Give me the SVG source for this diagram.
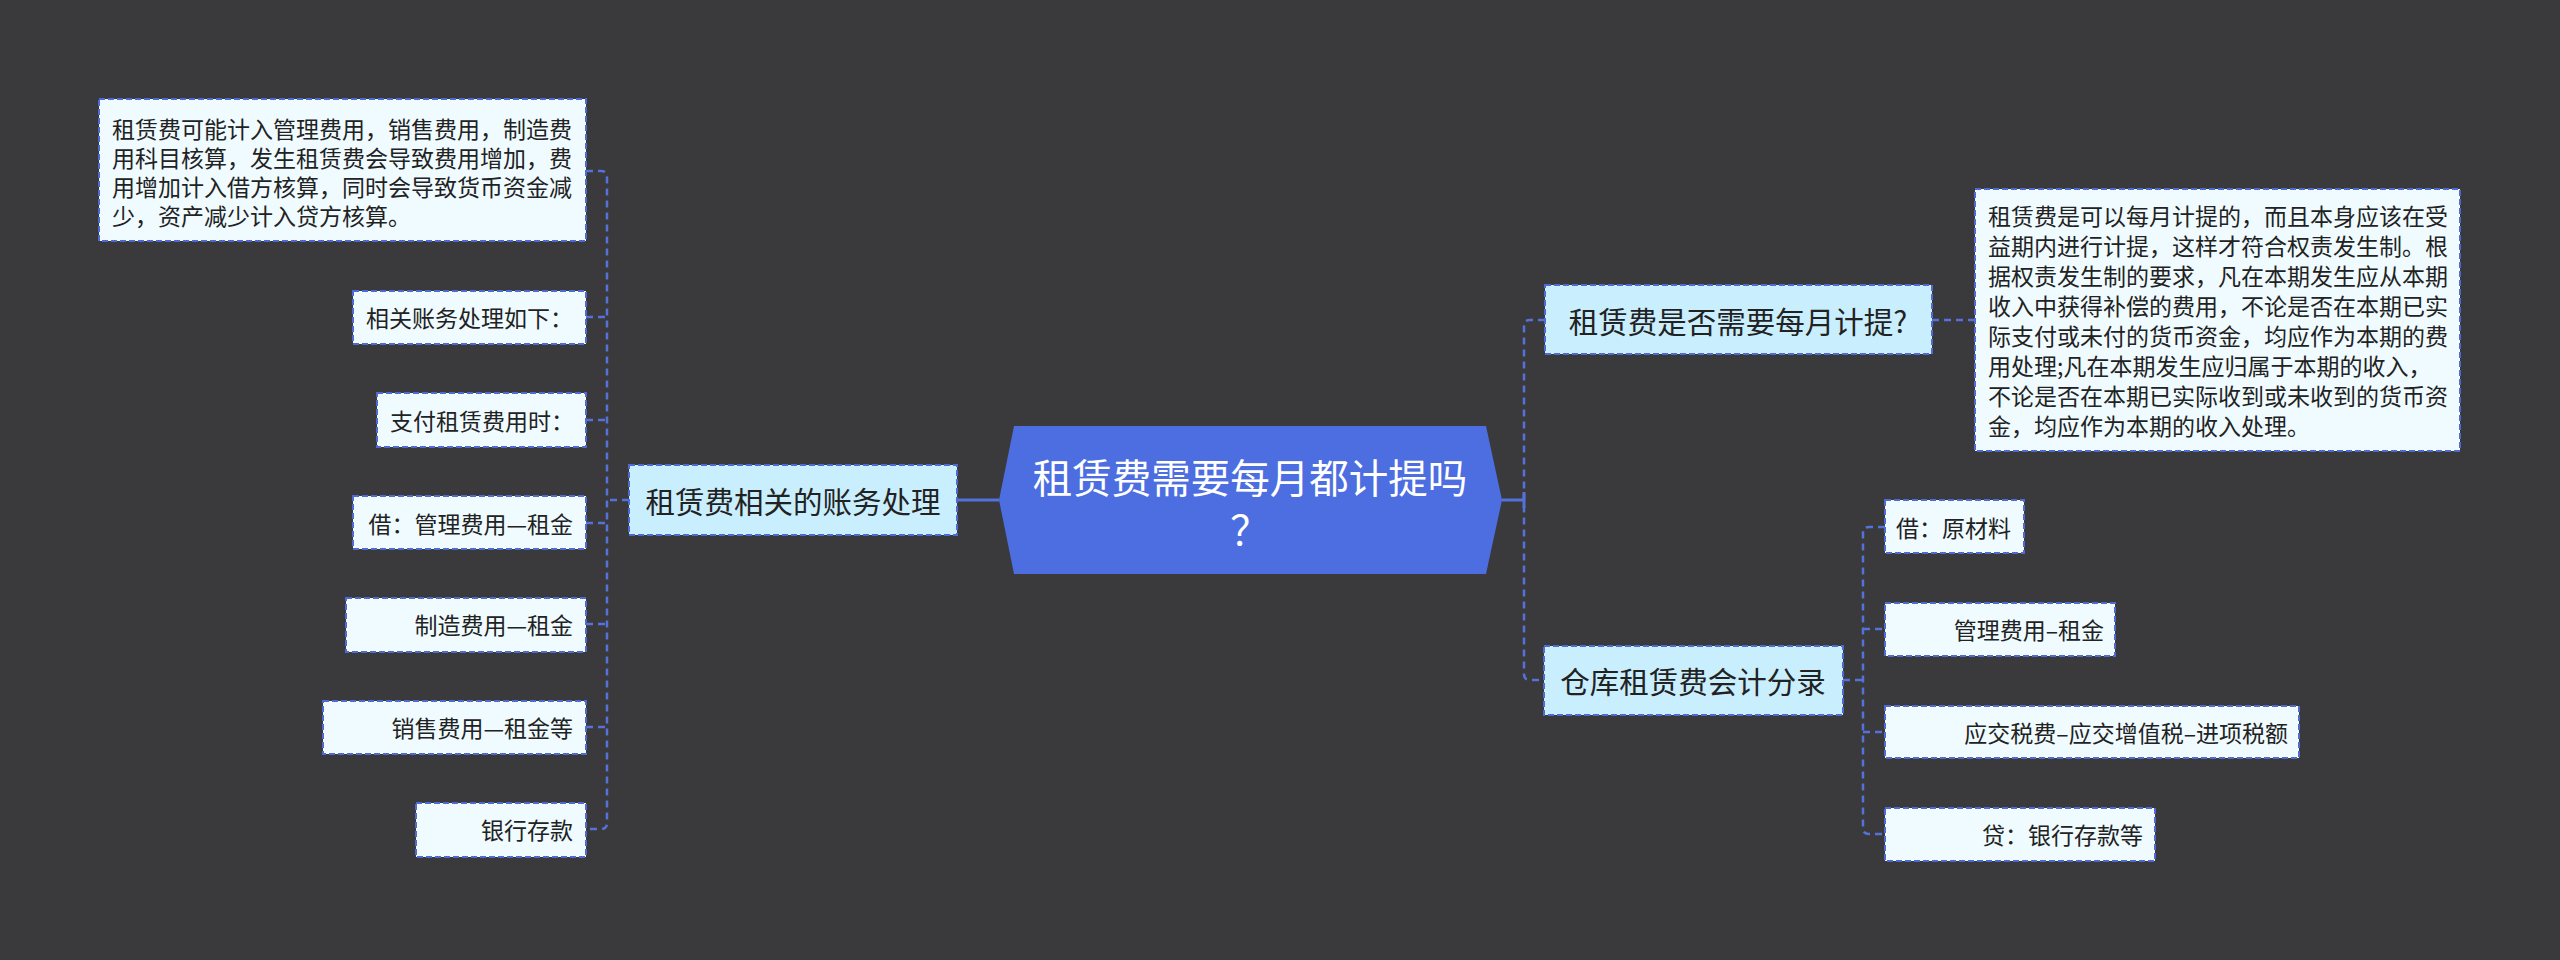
<svg xmlns="http://www.w3.org/2000/svg" width="2560" height="960" viewBox="0 0 2560 960">
<style>
text{font-family:"Noto Sans CJK SC","Noto Sans",sans-serif;fill:#222;}
.leaf{fill:#effbff;stroke:#4f6ad2;stroke-width:2;stroke-dasharray:6 3;}
.sub{fill:#c9eefd;stroke:#4f6ad2;stroke-width:2;stroke-dasharray:6 3;}
.lt{font-size:23px;dominant-baseline:central;}
.st{font-size:29.5px;dominant-baseline:central;text-anchor:middle;}
.c{fill:none;stroke:#5571da;stroke-width:2.5;stroke-dasharray:7 5;}
.s{fill:none;stroke:#5571da;stroke-width:3;}
</style>
<rect width="2560" height="960" fill="#3a393b"/>
<g id="connectors">
<path class="s" d="M957 500 H999"/>
<path class="s" d="M1502 500 H1524 M1524 492 V508"/>
<path class="c" d="M629 500 H607"/>
<path class="c" d="M586 171 H601 Q607 171 607 177 V823 Q607 829 601 829 H586"/>
<path class="c" d="M586 317 H607 M586 420 H607 M586 523 H607 M586 624 H607 M586 727 H607"/>
<path class="c" d="M1545 320 H1530 Q1524 320 1524 326 V674 Q1524 680 1530 680 H1544"/>
<path class="c" d="M1932 320 H1975"/>
<path class="c" d="M1843 680 H1863"/>
<path class="c" d="M1885 527 H1869 Q1863 527 1863 533 V828 Q1863 834 1869 834 H1885"/>
<path class="c" d="M1863 629 H1885 M1863 732 H1885"/>
</g>
<g id="main">
<polygon points="999,500 1014,426 1486,426 1502,500 1486,574 1014,574" fill="#4c6ee0"/>
<text x="1250" y="475" style="font-size:39.5px;fill:#fff;dominant-baseline:central;text-anchor:middle">租赁费需要每月都计提吗</text>
<text x="1250" y="527" style="font-size:39.5px;fill:#fff;dominant-baseline:central;text-anchor:middle">？</text>
</g>
<g id="sub-left">
<rect class="sub" x="629" y="465" width="328" height="70"/>
<text class="st" x="793" y="500">租赁费相关的账务处理</text>
</g>
<g id="leaf-l1">
<rect class="leaf" x="99" y="99" width="487" height="142"/>
<text class="lt" x="112" y="128">租赁费可能计入管理费用，销售费用，制造费</text>
<text class="lt" x="112" y="157">用科目核算，发生租赁费会导致费用增加，费</text>
<text class="lt" x="112" y="186">用增加计入借方核算，同时会导致货币资金减</text>
<text class="lt" x="112" y="215">少，资产减少计入贷方核算。</text>
</g>
<g id="leaf-l2">
<rect class="leaf" x="353" y="291" width="233" height="53"/>
<text class="lt" x="366" y="317">相关账务处理如下：</text>
</g>
<g id="leaf-l3">
<rect class="leaf" x="377" y="393" width="209" height="54"/>
<text class="lt" x="574" y="420" text-anchor="end">支付租赁费用时：</text>
</g>
<g id="leaf-l4">
<rect class="leaf" x="353" y="496" width="233" height="53"/>
<text class="lt" x="573" y="523" text-anchor="end">借：管理费用—租金</text>
</g>
<g id="leaf-l5">
<rect class="leaf" x="346" y="598" width="240" height="54"/>
<text class="lt" x="573" y="624" text-anchor="end">制造费用—租金</text>
</g>
<g id="leaf-l6">
<rect class="leaf" x="323" y="701" width="263" height="53"/>
<text class="lt" x="573" y="727" text-anchor="end">销售费用—租金等</text>
</g>
<g id="leaf-l7">
<rect class="leaf" x="416" y="803" width="170" height="54"/>
<text class="lt" x="573" y="829" text-anchor="end">银行存款</text>
</g>
<g id="sub-r1">
<rect class="sub" x="1545" y="285" width="387" height="69"/>
<text class="st" x="1738" y="320">租赁费是否需要每月计提?</text>
</g>
<g id="leaf-r1">
<rect class="leaf" x="1975" y="189" width="485" height="262"/>
<text class="lt" x="1988" y="215">租赁费是可以每月计提的，而且本身应该在受</text>
<text class="lt" x="1988" y="245">益期内进行计提，这样才符合权责发生制。根</text>
<text class="lt" x="1988" y="275">据权责发生制的要求，凡在本期发生应从本期</text>
<text class="lt" x="1988" y="305">收入中获得补偿的费用，不论是否在本期已实</text>
<text class="lt" x="1988" y="335">际支付或未付的货币资金，均应作为本期的费</text>
<text class="lt" x="1988" y="365">用处理;凡在本期发生应归属于本期的收入，</text>
<text class="lt" x="1988" y="395">不论是否在本期已实际收到或未收到的货币资</text>
<text class="lt" x="1988" y="425">金，均应作为本期的收入处理。</text>
</g>
<g id="sub-r2">
<rect class="sub" x="1544" y="646" width="299" height="69"/>
<text class="st" x="1693" y="680">仓库租赁费会计分录</text>
</g>
<g id="leaf-r2">
<rect class="leaf" x="1885" y="500" width="139" height="53"/>
<text class="lt" x="2011" y="527" text-anchor="end">借：原材料</text>
</g>
<g id="leaf-r3">
<rect class="leaf" x="1885" y="603" width="230" height="53"/>
<text class="lt" x="2104" y="629" text-anchor="end">管理费用–租金</text>
</g>
<g id="leaf-r4">
<rect class="leaf" x="1885" y="706" width="414" height="52"/>
<text class="lt" x="2288" y="732" text-anchor="end">应交税费–应交增值税–进项税额</text>
</g>
<g id="leaf-r5">
<rect class="leaf" x="1885" y="808" width="270" height="53"/>
<text class="lt" x="2143" y="834" text-anchor="end">贷：银行存款等</text>
</g>
</svg>
